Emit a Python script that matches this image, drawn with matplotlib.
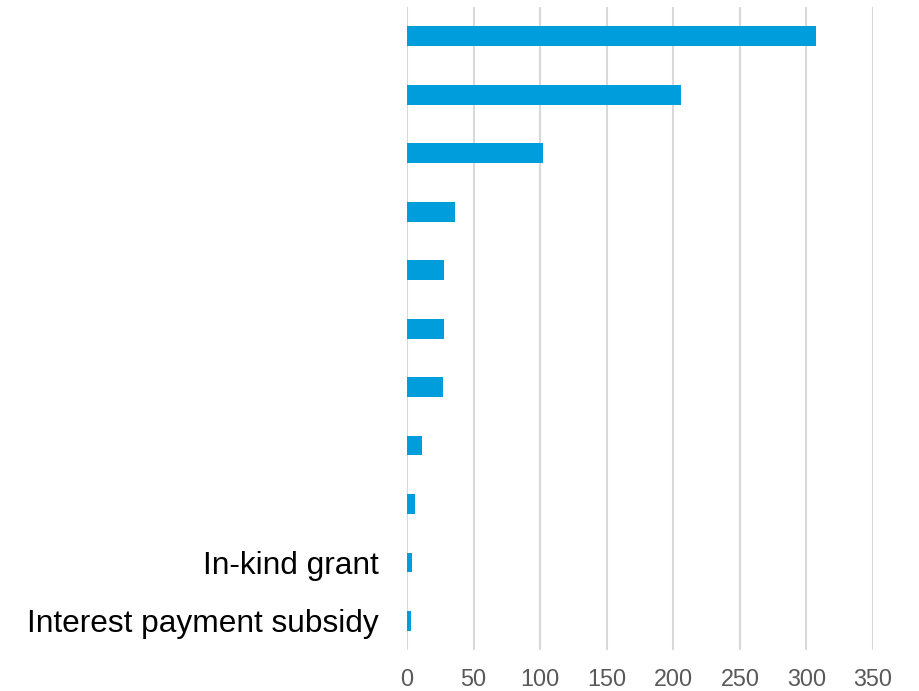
import numpy as np
import matplotlib.pyplot as plt

plt.rcParams['font.family'] = ['Liberation Sans', 'DejaVu Sans']

# categories from bottom to top (only the two bottom ones are labelled in the chart)
labels = ['Interest payment subsidy', 'In-kind grant', '', '', '', '', '', '', '', '', '']
values = [3, 4, 6, 11, 27, 28, 28, 36, 102, 206, 307]
xticks = [0, 50, 100, 150, 200, 250, 300, 350]

fig = plt.figure(figsize=(9.19, 6.91), dpi=100)
ax = fig.add_axes([0.4429, 0.059, 0.5071, 0.931])

y = np.arange(len(values))
ax.barh(y, values, height=0.34, color='#009ddc', zorder=3)

ax.set_xlim(0, 350)
ax.set_ylim(-0.5, len(values) - 0.5)
ax.set_xticks(xticks)
ax.set_xticklabels([str(t) for t in xticks])
ax.set_yticks(y)
ax.set_yticklabels(labels, fontsize=22.8, color='black')

ax.grid(axis='x', color='#d9d9d9', linewidth=1.5, zorder=0)
ax.grid(axis='y', visible=False)
for s in ax.spines.values():
    s.set_visible(False)

ax.tick_params(axis='x', length=0, labelsize=16.8, labelcolor='#595959', pad=13)
ax.tick_params(axis='y', length=0, pad=20.5)

fig.savefig('out.png', dpi=100)
